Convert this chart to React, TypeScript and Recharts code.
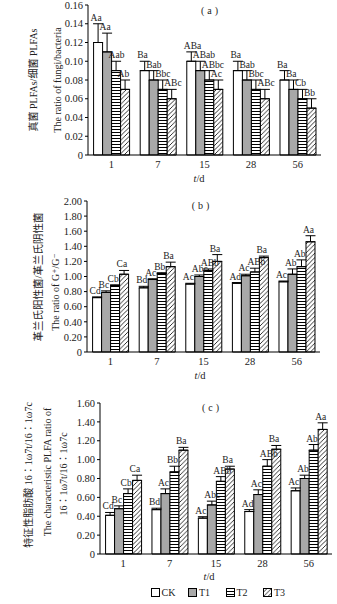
import React from 'react';
import { BarChart, Bar, XAxis, YAxis, ErrorBar, LabelList, Legend } from 'recharts';

// ---------- data ----------
const days = ['1', '7', '15', '28', '56'];
const treatments = ['CK', 'T1', 'T2', 'T3'];

// (a) fungi / bacteria
const aCK = [0.12, 0.09, 0.10, 0.09, 0.08];
const aT1 = [0.11, 0.08, 0.09, 0.08, 0.07];
const aT2 = [0.09, 0.07, 0.08, 0.07, 0.06];
const aT3 = [0.07, 0.06, 0.07, 0.06, 0.05];
const aCKsd = [0.02, 0.01, 0.01, 0.01, 0.01];
const aT1sd = [0.02, 0.01, 0.01, 0.01, 0.01];
const aT2sd = [0.01, 0.01, 0.01, 0.01, 0.01];
const aT3sd = [0.01, 0.01, 0.01, 0.01, 0.01];
const aCKlab = ['Aa', 'Ba', 'ABa', 'Ba', 'Ba'];
const aT1lab = ['Aa', 'Bab', 'ABab', 'Bab', 'Ba'];
const aT2lab = ['Aab', 'Bbc', 'ABbc', 'Bbc', 'Cb'];
const aT3lab = ['Ab', 'ABc', 'Ac', 'ABc', 'Bb'];
const aTicks = [0, 0.02, 0.04, 0.06, 0.08, 0.1, 0.12, 0.14, 0.16];

// (b) G+/G-
const bCK = [0.72, 0.85, 0.90, 0.91, 0.93];
const bT1 = [0.79, 0.96, 1.00, 1.01, 1.03];
const bT2 = [0.88, 1.04, 1.08, 1.06, 1.13];
const bT3 = [1.03, 1.13, 1.20, 1.25, 1.46];
const bCKsd = [0.01, 0.02, 0.01, 0.01, 0.01];
const bT1sd = [0.02, 0.01, 0.02, 0.02, 0.07];
const bT2sd = [0.01, 0.01, 0.02, 0.05, 0.09];
const bT3sd = [0.05, 0.06, 0.09, 0.02, 0.08];
const bCKlab = ['Cd', 'Bd', 'Ac', 'Ad', 'Ac'];
const bT1lab = ['Bc', 'Ac', 'Abc', 'Ac', 'Ab'];
const bT2lab = ['Cb', 'Bb', 'ABb', 'ABb', 'Ab'];
const bT3lab = ['Ca', 'Ba', 'Ba', 'Ba', 'Aa'];
const bTicks = [0, 0.2, 0.4, 0.6, 0.8, 1.0, 1.2, 1.4, 1.6, 1.8, 2.0];

// (c) 16:1w7t / 16:1w7c
const cCK = [0.41, 0.47, 0.38, 0.45, 0.67];
const cT1 = [0.48, 0.64, 0.52, 0.63, 0.80];
const cT2 = [0.64, 0.87, 0.77, 0.93, 1.10];
const cT3 = [0.78, 1.10, 0.90, 1.11, 1.32];
const cCKsd = [0.03, 0.015, 0.015, 0.02, 0.03];
const cT1sd = [0.03, 0.05, 0.04, 0.05, 0.035];
const cT2sd = [0.05, 0.06, 0.05, 0.07, 0.06];
const cT3sd = [0.055, 0.03, 0.03, 0.04, 0.07];
const cCKlab = ['Cd', 'Bd', 'Ac', 'Ad', 'Ac'];
const cT1lab = ['Bc', 'Ac', 'Abc', 'Ac', 'Ab'];
const cT2lab = ['Cb', 'Bb', 'ABb', 'ABb', 'Ab'];
const cT3lab = ['Ca', 'Ba', 'Ba', 'Ba', 'Aa'];
const cTicks = [0, 0.2, 0.4, 0.6, 0.8, 1.0, 1.2, 1.4, 1.6];

// ---------- helpers ----------
const SERIF = '"Liberation Serif", "Times New Roman", "DejaVu Serif", "Noto Sans CJK SC", serif';
const TEXT = '#222';
const fills = ['#ffffff', '#a8a8a8', 'url(#patH)', 'url(#patD)'];

type Row = Record<string, any>;

function buildRows(vals: number[][], sds: number[][], labs: string[][]): Row[] {
  return days.map((d, j) => {
    const r: Row = { day: d, id: String(j) };
    for (let i = 0; i < 4; i++) {
      r['v' + i] = vals[i][j];
      r['s' + i] = sds[i][j];
      r['e' + i] = [0, sds[i][j]];
      r['l' + i] = labs[i][j];
    }
    return r;
  });
}

const rowsA = buildRows([aCK, aT1, aT2, aT3], [aCKsd, aT1sd, aT2sd, aT3sd], [aCKlab, aT1lab, aT2lab, aT3lab]);
const rowsB = buildRows([bCK, bT1, bT2, bT3], [bCKsd, bT1sd, bT2sd, bT3sd], [bCKlab, bT1lab, bT2lab, bT3lab]);
const rowsC = buildRows([cCK, cT1, cT2, cT3], [cCKsd, cT1sd, cT2sd, cT3sd], [cCKlab, cT1lab, cT2lab, cT3lab]);

const makeLabel = (rows: Row[], i: number) => (props: any) => {
  const vb = props.viewBox || props;
  const x = Number(vb.x ?? props.x);
  const y = Number(vb.y ?? props.y);
  const h = Math.abs(Number(vb.height ?? props.height));
  const idx = props.value !== undefined ? Number(props.value) : Number(props.index);
  const row = rows[idx];
  if (!row || isNaN(x) || isNaN(y)) return null;
  const v = row['v' + i];
  const sd = row['s' + i];
  const errPx = v ? (sd / v) * h : 0;
  return (
    <text x={x - 3} y={y - errPx - 3} fontSize={9.5} fontFamily={SERIF} fill={TEXT} textAnchor="start">
      {row['l' + i]}
    </text>
  );
};

const fmt = (v: number) => (v === 0 ? '0' : v.toFixed(2));

const LegendContent = () => (
  <div style={{ position: 'relative', width: 337, height: 16, overflow: 'hidden' }}>
    {treatments.map((t, i) => (
      <div
        key={t}
        style={{ position: 'absolute', left: 150.5 + i * 37.5, top: 4, height: 9, display: 'flex', alignItems: 'center' }}
      >
        <svg width={9} height={9} style={{ display: 'block' }}>
          <rect x={0.5} y={0.5} width={8} height={8} fill={fills[i]} stroke="#000" strokeWidth={1} />
        </svg>
        <span style={{ marginLeft: 2, fontSize: 10, fontFamily: SERIF, lineHeight: '9px', color: TEXT }}>{t}</span>
      </div>
    ))}
  </div>
);

interface PanelProps {
  rows: Row[];
  ticks: number[];
  height: number;
  margin: { top: number; right: number; left: number; bottom: number };
  yWidth: number;
  legend?: boolean;
}

function Panel({ rows, ticks, height, margin, yWidth, legend }: PanelProps) {
  return (
    <BarChart
      width={337}
      height={height}
      data={rows}
      margin={margin}
      barCategoryGap="12%"
      barGap={0}
    >
      <XAxis
        dataKey="day"
        height={30}
        interval={0}
        tickLine={false}
        tickSize={0}
        tickMargin={6}
        axisLine={{ stroke: '#000', strokeWidth: 1 }}
        tick={{ fontSize: 10.5, fontFamily: SERIF, fill: TEXT }}
      />
      <YAxis
        width={yWidth}
        domain={[ticks[0], ticks[ticks.length - 1]]}
        ticks={ticks}
        interval={0}
        tickFormatter={fmt}
        tickSize={3}
        tickMargin={2}
        axisLine={{ stroke: '#000', strokeWidth: 1 }}
        tickLine={{ stroke: '#000', strokeWidth: 1 }}
        tick={{ fontSize: 10.5, fontFamily: SERIF, fill: TEXT }}
      />
      {legend ? (
        <Legend
          verticalAlign="bottom"
          align="left"
          content={<LegendContent />}
          wrapperStyle={{ left: 0, width: 337, height: 16 }}
        />
      ) : null}
      {[0, 1, 2, 3].map((i) => (
        <Bar
          key={i}
          dataKey={'v' + i}
          name={treatments[i]}
          fill={fills[i]}
          stroke="#000"
          strokeWidth={1}
          isAnimationActive={false}
        >
          <ErrorBar dataKey={'e' + i} width={5} stroke="#000" strokeWidth={1} direction="y" />
          <LabelList dataKey="id" content={makeLabel(rows, i)} />
        </Bar>
      ))}
    </BarChart>
  );
}

const rot = (x: number, y: number) => `rotate(-90 ${x} ${y})`;

export default function App() {
  return (
    <div style={{ position: 'absolute', left: 0, top: 0, width: 337, height: 604, background: '#fff', overflow: 'hidden' }}>
      <svg width={1} height={1} style={{ position: 'absolute', left: 0, top: 0 }}>
        <defs>
          <pattern id="patH" patternUnits="userSpaceOnUse" width={3} height={3}>
            <rect width={3} height={3} fill="#fff" />
            <line x1={0} y1={0.5} x2={3} y2={0.5} stroke="#000" strokeWidth={1} />
          </pattern>
          <pattern id="patD" patternUnits="userSpaceOnUse" width={4.5} height={4.5}>
            <rect width={4.5} height={4.5} fill="#fff" />
            <path d="M-1,1 L1,-1 M0,4.5 L4.5,0 M3.5,5.5 L5.5,3.5" stroke="#000" strokeWidth={0.8} />
          </pattern>
        </defs>
      </svg>

      <div style={{ position: 'absolute', left: 0, top: 0 }}>
        <Panel rows={rowsA} ticks={aTicks} height={185} margin={{ top: 5, right: 16, left: 0, bottom: 0 }} yWidth={88} />
      </div>
      <div style={{ position: 'absolute', left: 0, top: 190 }}>
        <Panel rows={rowsB} ticks={bTicks} height={192} margin={{ top: 11, right: 17, left: 0, bottom: 0 }} yWidth={87} />
      </div>
      <div style={{ position: 'absolute', left: 0, top: 385 }}>
        <Panel rows={rowsC} ticks={cTicks} height={215} margin={{ top: 18, right: 5, left: 0, bottom: 0 }} yWidth={100} legend />
      </div>

      <svg width={337} height={604} style={{ position: 'absolute', left: 0, top: 0, pointerEvents: 'none' }}>
        <g fontFamily={SERIF} fill={TEXT}>
          <text x={211} y={13.5} fontSize={10} textAnchor="middle" letterSpacing={3}>(a)</text>
          <text x={202} y={208.5} fontSize={10} textAnchor="middle" letterSpacing={3}>(b)</text>
          <text x={212} y={410.5} fontSize={10} textAnchor="middle" letterSpacing={3}>(c)</text>

          <text x={36.5} y={80} fontSize={10} textAnchor="middle" transform={rot(36.5, 80)}>真菌 PLFAs/细菌 PLFAs</text>
          <text x={60.5} y={80} fontSize={10} textAnchor="middle" transform={rot(60.5, 80)}>The ratio of fungi/bacteria</text>
          <text x={199} y={181.5} fontSize={10.5} textAnchor="middle"><tspan fontStyle="italic">t</tspan>/d</text>

          <text x={41.5} y={277} fontSize={10.5} textAnchor="middle" transform={rot(41.5, 277)}>革兰氏阳性菌/革兰氏阴性菌</text>
          <text x={58.5} y={292} fontSize={10} textAnchor="middle" transform={rot(58.5, 292)}>The ratio of G⁺/G⁻</text>
          <text x={200} y={378.5} fontSize={10.5} textAnchor="middle"><tspan fontStyle="italic">t</tspan>/d</text>

          <text x={31.5} y={475} fontSize={10} textAnchor="middle" transform={rot(31.5, 475)}>特征性脂肪酸 16∶1ω7t/16∶1ω7c</text>
          <text x={50.5} y={472} fontSize={10} textAnchor="middle" transform={rot(50.5, 472)}>The characteristic PLFA ratio of</text>
          <text x={66.5} y={474} fontSize={10} textAnchor="middle" transform={rot(66.5, 474)}>16∶1ω7t/16∶1ω7c</text>
          <text x={209} y={580} fontSize={10.5} textAnchor="middle"><tspan fontStyle="italic">t</tspan>/d</text>
        </g>
      </svg>
    </div>
  );
}
